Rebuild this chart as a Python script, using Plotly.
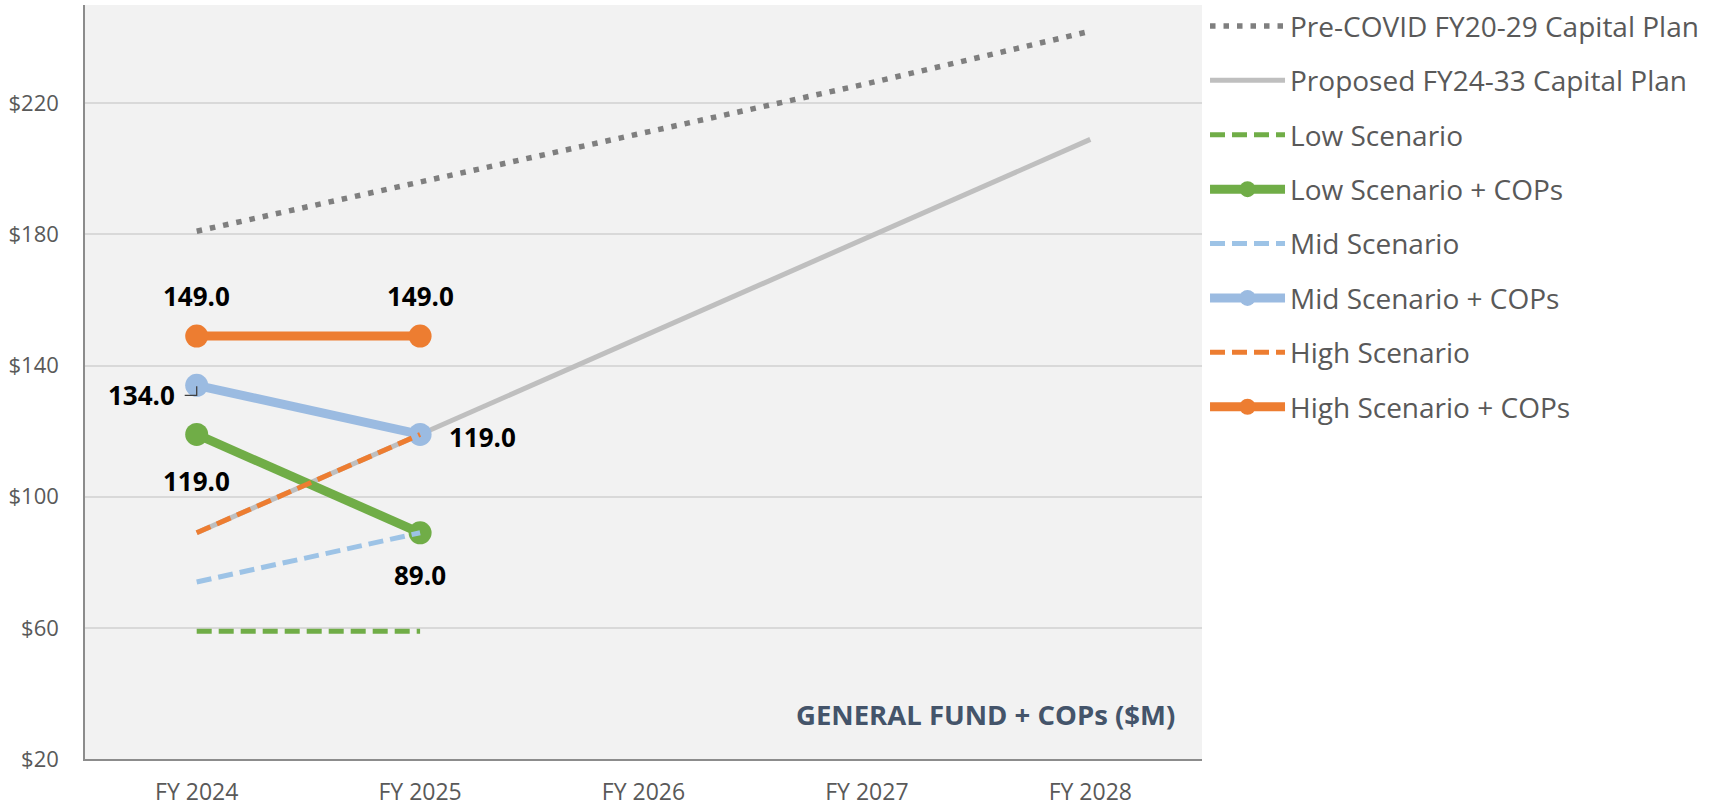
import plotly.graph_objects as go

categories = ["FY 2024", "FY 2025", "FY 2026", "FY 2027", "FY 2028"]

pre_covid = [181, 196, 211, 226, 242]
proposed = [89, 119, 149, 179, 209]
low = [59, 59]
low_cops = [119, 89]
mid = [74, 89]
mid_cops = [134, 119]
high = [89, 119]
high_cops = [149, 149]

y_ticks = [20, 60, 100, 140, 180, 220]
y_tick_labels = ["$20", "$60", "$100", "$140", "$180", "$220"]

FONT = "Open Sans"
GREEN = "#70AD47"
ORANGE = "#ED7D31"
BLUE_D = "#9DC3E6"
BLUE_S = "#9BBBE1"

fig = go.Figure()

def add(name, y, color, width, dash="solid", markers=False):
    fig.add_trace(go.Scatter(
        x=categories[:len(y)], y=y, name=name,
        mode="lines+markers" if markers else "lines",
        line=dict(color=color, width=width, dash=dash),
        marker=dict(size=23, color=color) if markers else None,
        legendgroup=name,
    ))

add("Pre-COVID FY20-29 Capital Plan", pre_covid, "#7F7F7F", 5.5, dash="5.5px,8px")
add("Proposed FY24-33 Capital Plan", proposed, "#BFBFBF", 5)
add("Low Scenario", low, GREEN, 5, dash="15px,7px")
add("Low Scenario + COPs", low_cops, GREEN, 9, markers=True)
add("Mid Scenario", mid, BLUE_D, 5, dash="15px,7px")
add("Mid Scenario + COPs", mid_cops, BLUE_S, 9, markers=True)
add("High Scenario", high, ORANGE, 5, dash="15px,7px")
add("High Scenario + COPs", high_cops, ORANGE, 9, markers=True)

# data labels (placement offsets in pixels)
label_specs = [
    (high_cops, 0, "center", 0, 40),
    (high_cops, 1, "center", 0, 40),
    (mid_cops, 0, "right", -20, -10),
    (mid_cops, 1, "left", 27, -3),
    (low_cops, 0, "center", 0, -47),
    (low_cops, 1, "center", 0, -42),
]
for series, i, xa, xs, ys in label_specs:
    fig.add_annotation(
        x=categories[i], y=series[i], text=f"{series[i]:.1f}",
        showarrow=False, xanchor=xa, yanchor="middle",
        xshift=xs, yshift=ys,
        font=dict(family=FONT, size=26, color="#000000", weight="bold"),
    )

# small leader line of the 134.0 label
fig.add_shape(
    type="path", xref="x", yref="y", xsizemode="pixel", ysizemode="pixel",
    xanchor=categories[0], yanchor=mid_cops[0],
    path="M -12,-10 L 0,-10 L 0,-1",
    line=dict(color="#404040", width=1.3), layer="above",
)

fig.add_annotation(
    xref="paper", yref="paper", x=0.9776, y=0.0584,
    text="<b>GENERAL FUND + COPs ($M)</b>", showarrow=False,
    xanchor="right", yanchor="middle",
    font=dict(family=FONT, size=27.5, color="#44546A"),
)

fig.update_layout(
    width=1727, height=807,
    margin=dict(l=85, r=525, t=5, b=48, autoexpand=False),
    paper_bgcolor="#FFFFFF",
    plot_bgcolor="#F2F2F2",
    font=dict(family=FONT, color="#595959"),
    showlegend=True,
    legend=dict(
        x=1.0027, xanchor="left", y=1.005, yanchor="top",
        font=dict(family=FONT, size=28, color="#595959"),
        tracegroupgap=15, itemwidth=75, maxheight=1.0,
        bgcolor="rgba(0,0,0,0)",
    ),
    xaxis=dict(
        type="category", categoryorder="array", categoryarray=categories,
        range=[-0.5, 4.5], showgrid=False, zeroline=False,
        showline=True, linecolor="#8C8C8C", linewidth=1.5,
        ticks="", tickfont=dict(family=FONT, size=23, color="#595959"),
        ticklabelstandoff=12,
    ),
    yaxis=dict(
        range=[20, 250], tickmode="array", tickvals=y_ticks, ticktext=y_tick_labels,
        showgrid=True, gridcolor="#D9D9D9", gridwidth=1.5, zeroline=False,
        showline=True, linecolor="#8C8C8C", linewidth=1.5,
        ticks="", tickfont=dict(family=FONT, size=22, color="#595959"),
        ticklabelstandoff=20,
    ),
)

fig.write_html(
    "out.html",
    config={"displayModeBar": False},
    post_script="document.body.style.margin='0px';",
)
